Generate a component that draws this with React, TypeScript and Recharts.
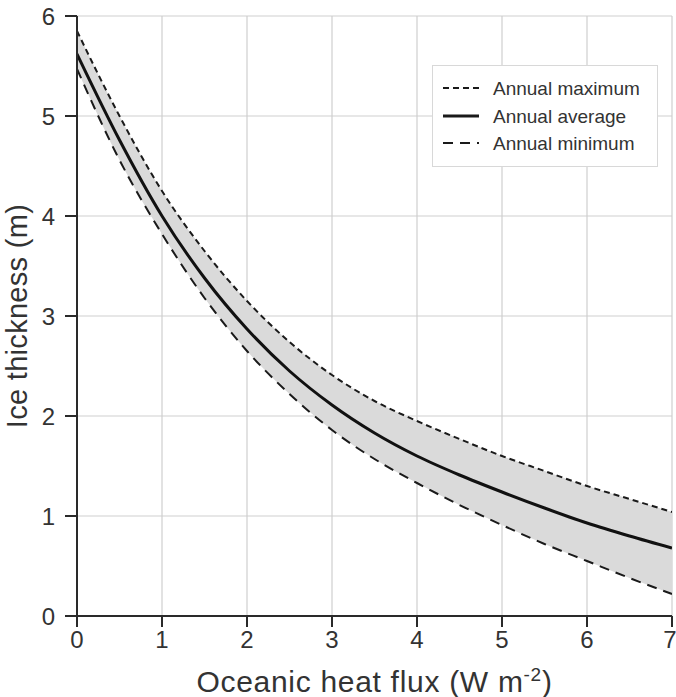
import React from "react";
import { ComposedChart, Line, Area, XAxis, YAxis, CartesianGrid } from "recharts";

const flux = [0, 0.5, 1, 1.5, 2, 2.5, 3, 3.5, 4, 4.5, 5, 5.5, 6, 6.5, 7];
const annualMax = [5.85, 5.0, 4.25, 3.65, 3.15, 2.74, 2.41, 2.15, 1.95, 1.77, 1.6, 1.45, 1.3, 1.17, 1.04];
const annualAvg = [5.62, 4.76, 4.0, 3.38, 2.87, 2.45, 2.11, 1.83, 1.6, 1.41, 1.24, 1.08, 0.93, 0.8, 0.68];
const annualMin = [5.47, 4.56, 3.82, 3.18, 2.65, 2.22, 1.86, 1.57, 1.33, 1.11, 0.91, 0.72, 0.55, 0.38, 0.22];
const xTicks = [0, 1, 2, 3, 4, 5, 6, 7];
const yTicks = [0, 1, 2, 3, 4, 5, 6];
const legendLabels = ["Annual maximum", "Annual average", "Annual minimum"];

const data = flux.map((x, i) => ({
  x,
  max: annualMax[i],
  avg: annualAvg[i],
  min: annualMin[i],
  band: [annualMin[i], annualMax[i]],
}));

const FONT = "'Liberation Sans', Arial, Helvetica, sans-serif";
const TXT = "#333";

const XLabel = (props: any) => {
  const vb = props.viewBox || {};
  const cx = vb.x + vb.width / 2;
  const y = vb.y + 76;
  return (
    <text x={cx} y={y} textAnchor="middle" fontFamily={FONT} fontSize={30} letterSpacing={0.7} fill={TXT}>
      Oceanic heat flux (W m
      <tspan dy={-11} fontSize={19}>-2</tspan>
      <tspan dy={11}>)</tspan>
    </text>
  );
};

const YLabel = (props: any) => {
  const vb = props.viewBox || {};
  const cy = vb.y + vb.height / 2;
  const x = 17;
  return (
    <text
      x={x}
      y={cy}
      textAnchor="middle"
      dominantBaseline="central"
      transform={`rotate(-90, ${x}, ${cy})`}
      fontFamily={FONT}
      fontSize={29}
      letterSpacing={0.3}
      fill={TXT}
    >
      Ice thickness (m)
    </text>
  );
};

const LegendBox = () => {
  const rows = [
    { dash: "6 4", w: 2 },
    { dash: undefined, w: 3 },
    { dash: "10 7", w: 2 },
  ];
  const ys = [23, 51, 78];
  return (
    <svg width={226} height={102} style={{ display: "block" }}>
      <rect x={0.5} y={0.5} width={225} height={101} fill="#fff" stroke="#d8d8d8" />
      {rows.map((r, i) => (
        <g key={i}>
          <line x1={11} x2={47} y1={ys[i]} y2={ys[i]} stroke="#1a1a1a" strokeWidth={r.w} strokeDasharray={r.dash} />
          <text x={61} y={ys[i]} dominantBaseline="central" fontFamily={FONT} fontSize={19} fill={TXT}>
            {legendLabels[i]}
          </text>
        </g>
      ))}
    </svg>
  );
};

export default function App() {
  return (
    <div style={{ position: "absolute", left: 0, top: 0, width: 676, height: 697, background: "#fff" }}>
      <ComposedChart width={676} height={697} data={data} margin={{ top: 16, right: 4, bottom: 21, left: 0 }}>
        <CartesianGrid stroke="#cfcfcf" strokeWidth={1.2} verticalValues={xTicks} horizontalValues={yTicks} />
        <XAxis
          dataKey="x"
          type="number"
          domain={[0, 7]}
          ticks={xTicks}
          height={60}
          axisLine={{ stroke: "#2a2a2a", strokeWidth: 2 }}
          tickLine={{ stroke: "#2a2a2a", strokeWidth: 2 }}
          tickSize={11}
          tickMargin={4}
          tick={{ fontFamily: FONT, fontSize: 24, fill: TXT }}
          label={<XLabel />}
          allowDataOverflow
        />
        <YAxis
          type="number"
          domain={[0, 6]}
          ticks={yTicks}
          width={77}
          axisLine={{ stroke: "#2a2a2a", strokeWidth: 2 }}
          tickLine={{ stroke: "#2a2a2a", strokeWidth: 2 }}
          tickSize={12}
          tickMargin={10}
          tick={{ fontFamily: FONT, fontSize: 24, fill: TXT }}
          label={<YLabel />}
          allowDataOverflow
        />
        <Area
          dataKey="band"
          type="monotone"
          fill="#dadada"
          fillOpacity={1}
          stroke="none"
          isAnimationActive={false}
          legendType="none"
        />
        <Line dataKey="min" type="monotone" stroke="#1a1a1a" strokeWidth={2} strokeDasharray="10 7" dot={false} isAnimationActive={false} />
        <Line dataKey="avg" type="monotone" stroke="#111" strokeWidth={3} dot={false} isAnimationActive={false} />
        <Line dataKey="max" type="monotone" stroke="#1a1a1a" strokeWidth={2} strokeDasharray="6 4" dot={false} isAnimationActive={false} />
      </ComposedChart>
      <div style={{ position: "absolute", left: 432, top: 65, width: 226, height: 102 }}>
        <LegendBox />
      </div>
    </div>
  );
}
